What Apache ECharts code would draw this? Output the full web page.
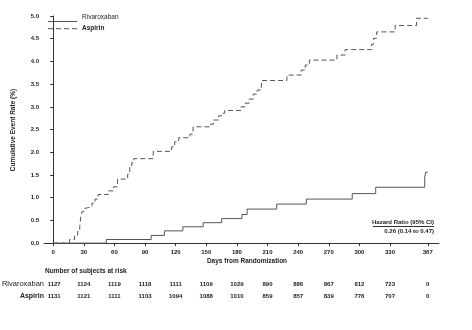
<!DOCTYPE html>
<html><head><meta charset="utf-8">
<script src="https://cdn.jsdelivr.net/npm/echarts@6/dist/echarts.min.js"></script>
<style>html,body{margin:0;padding:0;background:#fff}#c{width:472px;height:330px}</style>
</head><body><div id="c"></div>
<script>
// Kaplan-Meier style cumulative event rates (day, %)
const rivaroxaban = [[0,0],[52,0.08],[96,0.17],[109,0.27],[127,0.36],[147,0.45],[165,0.54],[185,0.63],[190,0.75],[219,0.86],[248,0.97],[293,1.09],[316,1.23],[364,1.45],[365,1.56],[367,1.56]];
const aspirin = [[0,0],[16,0.08],[21,0.16],[24,0.26],[26,0.36],[27,0.58],[28,0.69],[30,0.76],[31,0.80],[38,0.88],[41,0.97],[44,1.07],[54,1.15],[59,1.24],[63,1.41],[73,1.52],[75,1.68],[77,1.77],[79,1.86],[98,2.02],[116,2.12],[119,2.23],[123,2.32],[134,2.40],[137,2.56],[154,2.62],[157,2.71],[162,2.80],[165,2.86],[168,2.92],[184,3.0],[188,3.08],[192,3.17],[196,3.28],[200,3.37],[204,3.58],[229,3.70],[243,3.81],[247,3.92],[251,4.03],[278,4.14],[286,4.26],[312,4.38],[314,4.51],[317,4.65],[335,4.79],[356,4.95],[367,4.95]];
const xTicks = [0,30,60,90,120,150,180,210,240,270,300,330,367];
const yTicks = [0,0.5,1,1.5,2,2.5,3,3.5,4,4.5,5];
const riskRiva = [1127,1124,1119,1118,1111,1109,1029,890,886,867,812,723,0];
const riskAsp = [1131,1121,1111,1103,1094,1088,1010,859,857,839,776,707,0];

const FONT = 'Liberation Sans';
const TXT = '#222';
const chart = echarts.init(document.getElementById('c'), null, {renderer:'canvas'});
const option = {
  animation:false,
  backgroundColor:'#fff',
  textStyle:{fontFamily:FONT},
  grid:{left:44, right:33, top:16, bottom:85.5, containLabel:false},
  xAxis:{type:'value', min:-9, max:378,
    axisLine:{lineStyle:{color:'#333', width:1}},
    axisTick:{customValues:xTicks, length:3, lineStyle:{color:'#333'}},
    axisLabel:{customValues:xTicks, fontSize:6, fontWeight:'bold', color:TXT, margin:5, fontFamily:FONT},
    splitLine:{show:false}},
  yAxis:{type:'value', min:-0.03, max:5,
    axisLine:{show:true, lineStyle:{color:'#333', width:1}},
    axisTick:{show:true, customValues:yTicks, length:3, lineStyle:{color:'#333'}},
    axisLabel:{customValues:yTicks, fontSize:6, fontWeight:'bold', color:TXT, margin:5, fontFamily:FONT,
      formatter:v=>v.toFixed(1)},
    splitLine:{show:false}},
  series:[
    {name:'Rivaroxaban', type:'line', step:'end', data:rivaroxaban, showSymbol:false,
     lineStyle:{color:'#555', width:1, type:'solid'}},
    {name:'Aspirin', type:'line', step:'end', data:aspirin, showSymbol:false,
     lineStyle:{color:'#555', width:1, type:[5,3]}}
  ]
};
chart.setOption(option);

const g = [];
// legend
g.push({type:'line', shape:{x1:48,y1:21.5,x2:77,y2:21.5}, style:{stroke:'#555', lineWidth:1}});
g.push({type:'text', style:{text:'Rivaroxaban', x:82, y:17.5, fontSize:6.5, fontFamily:FONT, fill:TXT, textVerticalAlign:'middle'}});
g.push({type:'line', shape:{x1:48,y1:28.7,x2:77,y2:28.7}, style:{stroke:'#555', lineWidth:1, lineDash:[5,3]}});
g.push({type:'text', style:{text:'Aspirin', x:82, y:28.7, fontSize:6.5, fontWeight:'bold', fontFamily:FONT, fill:TXT, textVerticalAlign:'middle'}});
// axis names
g.push({type:'text', rotation:Math.PI/2, x:13, y:130, style:{text:'Cumulative Event Rate (%)', fontSize:6.5, fontWeight:'bold', fontFamily:FONT, fill:TXT, textAlign:'center', textVerticalAlign:'middle'}});
g.push({type:'text', style:{text:'Days from Randomization', x:247, y:261.5, fontSize:6.5, fontWeight:'bold', fontFamily:FONT, fill:TXT, textAlign:'center', textVerticalAlign:'middle'}});
// hazard ratio
g.push({type:'text', style:{text:'Hazard Ratio (95% CI)', x:434, y:222.5, fontSize:6, fontWeight:'bold', fontFamily:FONT, fill:TXT, textAlign:'right', textVerticalAlign:'middle'}});
g.push({type:'line', shape:{x1:373,y1:226.5,x2:434,y2:226.5}, style:{stroke:'#333', lineWidth:1}});
g.push({type:'text', style:{text:'0.26 (0.14 to 0.47)', x:434, y:231.5, fontSize:6, fontWeight:'bold', fontFamily:FONT, fill:TXT, textAlign:'right', textVerticalAlign:'middle'}});
// at-risk table
g.push({type:'text', style:{text:'Number of subjects at risk', x:45, y:271.5, fontSize:6.5, fontWeight:'bold', fontFamily:FONT, fill:TXT, textVerticalAlign:'middle'}});
g.push({type:'text', style:{text:'Rivaroxaban', x:44, y:284, fontSize:7.5, fontFamily:FONT, fill:TXT, textAlign:'right', textVerticalAlign:'middle'}});
g.push({type:'text', style:{text:'Aspirin', x:44, y:296.5, fontSize:7, fontWeight:'bold', fontFamily:FONT, fill:TXT, textAlign:'right', textVerticalAlign:'middle'}});
xTicks.forEach((d,i)=>{
  const px = chart.convertToPixel({xAxisIndex:0}, d) + (i === 0 ? 1 : 0);
  g.push({type:'text', style:{text:String(riskRiva[i]), x:px, y:284, fontSize:6, fontWeight:'bold', fontFamily:FONT, fill:TXT, textAlign:'center', textVerticalAlign:'middle'}});
  g.push({type:'text', style:{text:String(riskAsp[i]), x:px, y:296.5, fontSize:6, fontWeight:'bold', fontFamily:FONT, fill:TXT, textAlign:'center', textVerticalAlign:'middle'}});
});
chart.setOption({graphic:{elements:g}});
</script></body></html>
